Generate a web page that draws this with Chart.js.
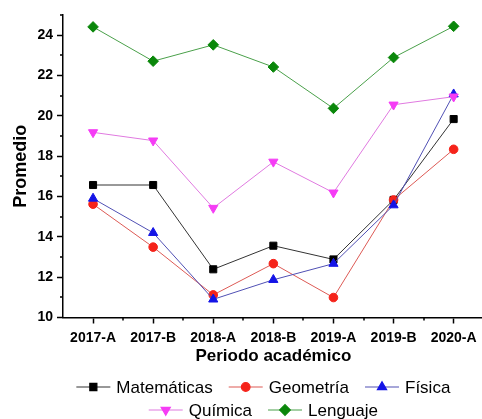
<!DOCTYPE html>
<html>
<head>
<meta charset="utf-8">
<script src="https://cdn.jsdelivr.net/npm/chart.js@4.4.1/dist/chart.umd.min.js"></script>
<style>
html, body { margin: 0; padding: 0; background: #fff; overflow: hidden; }
#chart { display: block; }
</style>
</head>
<body>
<canvas id="chart" width="490" height="419"></canvas>
<script>
const periods = ['2017-A', '2017-B', '2018-A', '2018-B', '2019-A', '2019-B', '2020-A'];

const matematicas = [16.57, 16.57, 12.39, 13.56, 12.88, 15.83, 19.84];
const geometria   = [15.62, 13.49, 11.12, 12.67, 10.99, 15.83, 18.34];
const fisica      = [15.90, 14.20, 10.90, 11.87, 12.67, 15.57, 21.07];
const quimica     = [19.18, 18.77, 15.43, 17.72, 16.19, 20.55, 20.95];
const lenguaje    = [24.41, 22.71, 23.52, 22.42, 20.37, 22.89, 24.44];

const yTicks = [10, 12, 14, 16, 18, 20, 22, 24];
const yMinor = [11, 13, 15, 17, 19, 21, 23, 25];

const FONT = '"Liberation Sans", Arial, sans-serif';

function series(label, data, point, line, style, radius, rotation, order) {
    return {
        label: label,
        data: data,
        borderColor: line,
        borderWidth: 1,
        backgroundColor: point,
        pointBackgroundColor: point,
        pointBorderColor: point,
        pointBorderWidth: 1,
        pointStyle: style,
        pointRadius: radius,
        pointRotation: rotation,
        tension: 0,
        order: order,
    };
}

// minor ticks between categories and at odd values
const minorTicks = {
    id: 'minorTicks',
    afterDraw(chart) {
        const ctx = chart.ctx;
        const x = chart.scales.x;
        const y = chart.scales.y;
        ctx.save();
        ctx.strokeStyle = '#000';
        ctx.lineWidth = 1.5;
        ctx.beginPath();
        for (let i = 0; i < periods.length - 1; i++) {
            const px = Math.round(x.getPixelForValue(i + 0.5));
            ctx.moveTo(px, x.top);
            ctx.lineTo(px, x.top + 3);
        }
        yMinor.forEach(v => {
            const py = Math.round(y.getPixelForValue(v));
            ctx.moveTo(y.right, py);
            ctx.lineTo(y.right - 3, py);
        });
        ctx.stroke();
        ctx.restore();
    }
};

// legend with a short line through the marker
const lineLegend = {
    id: 'lineLegend',
    afterDraw(chart) {
        const ctx = chart.ctx;
        const sets = chart.data.datasets;
        const rows = [[0, 1, 2], [3, 4]];
        const rowY = [387, 410];
        const lineLen = 34, gap = 6, spacing = 16;
        const center = (chart.chartArea.left + chart.chartArea.right) / 2 - 10;
        ctx.save();
        ctx.font = '17px ' + FONT;
        ctx.textBaseline = 'middle';
        rows.forEach((row, r) => {
            const widths = row.map(i => lineLen + gap + ctx.measureText(sets[i].label).width);
            const total = widths.reduce((a, b) => a + b, 0) + spacing * (row.length - 1);
            let xp = center - total / 2;
            const yp = rowY[r];
            row.forEach((i, k) => {
                const ds = sets[i];
                ctx.strokeStyle = ds.borderColor;
                ctx.lineWidth = 1.2;
                ctx.beginPath();
                ctx.moveTo(xp, yp);
                ctx.lineTo(xp + lineLen, yp);
                ctx.stroke();
                ctx.fillStyle = ds.pointBackgroundColor;
                ctx.strokeStyle = ds.pointBorderColor;
                Chart.helpers.drawPoint(ctx, {
                    pointStyle: ds.pointStyle,
                    radius: ds.pointRadius,
                    rotation: ds.pointRotation,
                    borderWidth: 1
                }, xp + lineLen / 2, yp);
                ctx.fillStyle = '#000';
                ctx.fillText(ds.label, xp + lineLen + gap, yp + 1);
                xp += widths[k] + spacing;
            });
        });
        ctx.restore();
    }
};

new Chart(document.getElementById('chart'), {
    type: 'line',
    data: {
        labels: periods,
        datasets: [
            series('Matemáticas', matematicas, '#000000', '#333333', 'rect', 5, 0, 4),
            series('Geometría', geometria, '#f5231a', '#dd5a55', 'circle', 4.3, 0, 3),
            series('Física', fisica, '#1414e6', '#5050b4', 'triangle', 5.3, 0, 2),
            series('Química', quimica, '#f53cf5', '#e07ae0', 'triangle', 5.3, 180, 1),
            series('Lenguaje', lenguaje, '#0a870a', '#4aa04a', 'rectRot', 5.3, 0, 0),
        ]
    },
    options: {
        responsive: false,
        animation: false,
        layout: { padding: { top: 15, right: 2, bottom: 52, left: 0 } },
        plugins: {
            legend: { display: false },
            tooltip: { enabled: false }
        },
        scales: {
            x: {
                offset: true,
                grid: {
                    display: true,
                    drawOnChartArea: false,
                    offset: false,
                    tickLength: 6,
                    tickColor: '#000',
                    tickWidth: 1.5
                },
                border: { color: '#000', width: 1.5 },
                ticks: {
                    color: '#000',
                    font: { family: FONT, size: 14, weight: 'bold' },
                    padding: 6,
                    maxRotation: 0,
                    autoSkip: false
                },
                title: {
                    display: true,
                    text: 'Periodo académico',
                    color: '#000',
                    font: { family: FONT, size: 17, weight: 'bold' },
                    padding: { top: 0, bottom: 0 }
                },
                afterFit(s) { s.height = 49.5; }
            },
            y: {
                min: 10,
                max: 25,
                afterBuildTicks(s) { s.ticks = yTicks.map(v => ({ value: v })); },
                grid: {
                    display: true,
                    drawOnChartArea: false,
                    tickLength: 6,
                    tickColor: '#000',
                    tickWidth: 1.5
                },
                border: { color: '#000', width: 1.5 },
                ticks: {
                    color: '#000',
                    font: { family: FONT, size: 14, weight: 'bold' },
                    padding: 4
                },
                title: {
                    display: true,
                    text: 'Promedio',
                    color: '#000',
                    font: { family: FONT, size: 18, weight: 'bold' },
                    padding: { top: 10, bottom: 10 }
                },
                afterFit(s) { s.width = 63; }
            }
        }
    },
    plugins: [minorTicks, lineLegend]
});
</script>
</body>
</html>
